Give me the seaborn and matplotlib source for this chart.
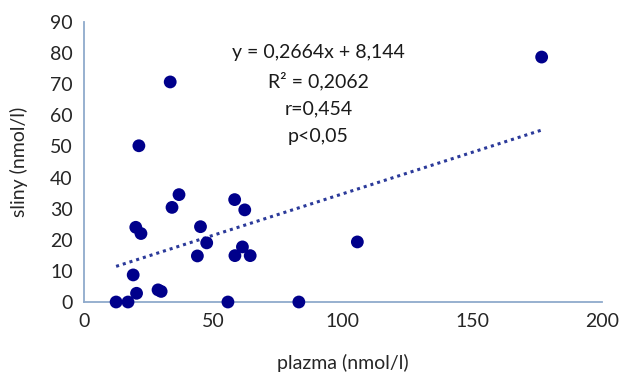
import seaborn as sns
import pandas as pd
import numpy as np
import matplotlib.pyplot as plt

# values
plazma = [12.4, 17.0, 55.6, 83.0, 20.3, 19.0, 28.6, 29.8, 20.0, 22.0, 21.2, 33.3,
          34.0, 36.7, 43.8, 45.0, 47.4, 58.2, 62.1, 58.3, 61.2, 64.2, 105.6, 176.8]
sliny = [0.0, 0.0, 0.0, 0.0, 2.8, 8.7, 3.9, 3.4, 24.0, 22.0, 50.2, 70.7,
         30.4, 34.5, 14.8, 24.2, 19.0, 32.9, 29.6, 14.9, 17.7, 14.9, 19.3, 78.7]

# trendline as printed on the chart
slope = 0.2664
intercept = 8.144
stats_text = "y = 0,2664x + 8,144\nR² = 0,2062\nr=0,454\np<0,05"

x_ticks = [0, 50, 100, 150, 200]
y_ticks = [0, 10, 20, 30, 40, 50, 60, 70, 80, 90]

df = pd.DataFrame({'plazma': plazma, 'sliny': sliny})

sns.set_style("white")
plt.rcParams['font.family'] = ['Lato', 'DejaVu Sans']

fig = plt.figure(figsize=(6.2, 3.74), dpi=100)
ax = fig.add_axes([0.1355, 0.1925, 0.835, 0.749])

# dotted linear trendline over the data range
xs = np.array([min(plazma), max(plazma)])
trend = pd.DataFrame({'plazma': xs, 'sliny': slope * xs + intercept})
sns.lineplot(data=trend, x='plazma', y='sliny', ax=ax, color='#2B3A9A',
             linestyle=(0, (1, 1.3)), linewidth=2.2)

sns.scatterplot(data=df, x='plazma', y='sliny', ax=ax, color='#00008B',
                s=85, edgecolor='none', zorder=3, clip_on=False)

ax.text(90.5, 83.0, stats_text, ha='center', va='top', fontsize=14,
        linespacing=1.72, color='#1a1a1a')

ax.set_xlim(0, 200)
ax.set_ylim(0, 90)
ax.set_xticks(x_ticks)
ax.set_yticks(y_ticks)
ax.tick_params(length=0, labelsize=14, colors='#262626', pad=8)
ax.set_xlabel('plazma (nmol/l)', fontsize=14, color='#262626', labelpad=17)
ax.set_ylabel('sliny (nmol/l)', fontsize=14, color='#262626', labelpad=16)

for side in ['top', 'right']:
    ax.spines[side].set_visible(False)
for side in ['left', 'bottom']:
    ax.spines[side].set_color('#8FAACC')
    ax.spines[side].set_linewidth(1.3)

plt.savefig('out.png', dpi=100)
